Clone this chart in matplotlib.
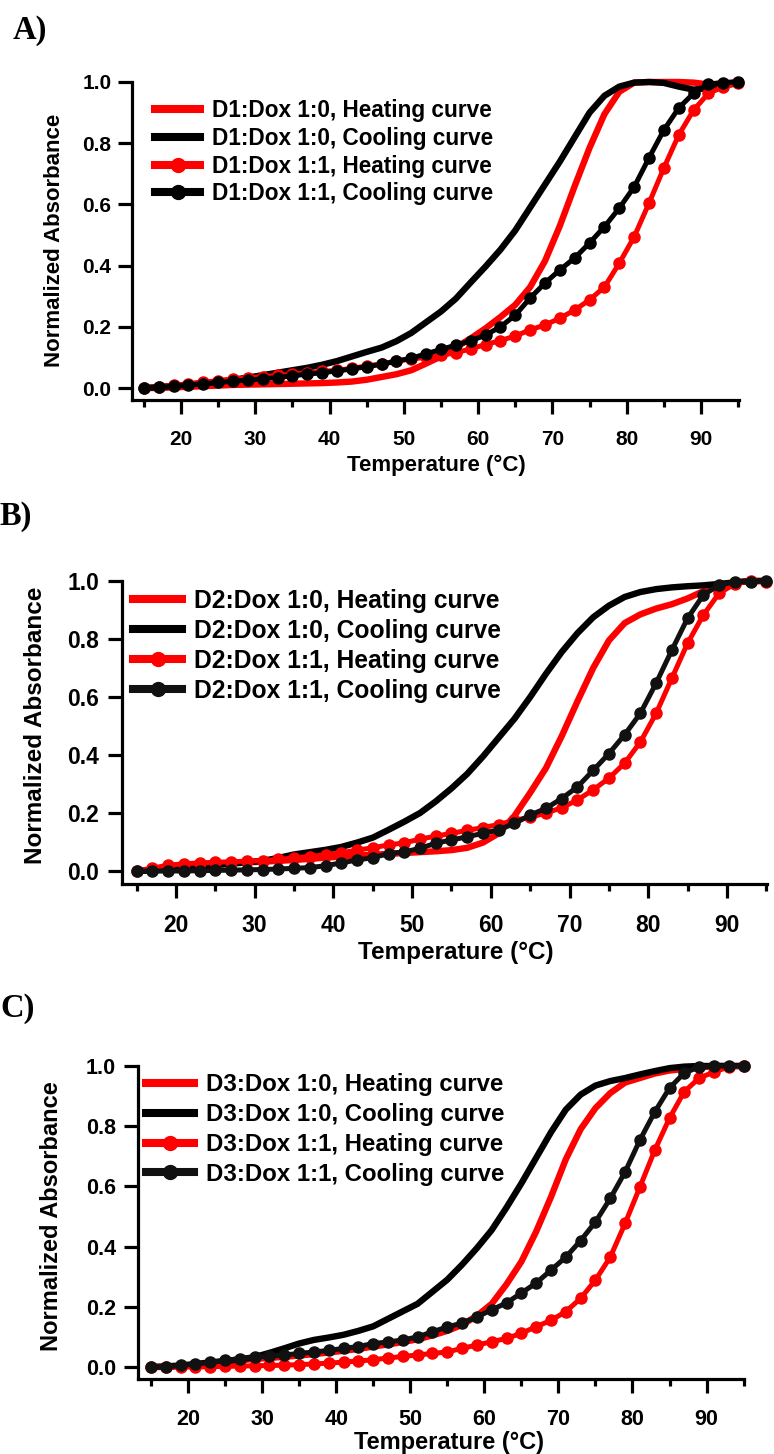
import matplotlib
matplotlib.use("Agg")
import matplotlib.pyplot as plt
from matplotlib.ticker import MultipleLocator, FormatStrFormatter

plt.rcParams['font.family'] = ['Liberation Sans', 'DejaVu Sans']
plt.rcParams['font.weight'] = 'bold'
plt.rcParams['axes.labelweight'] = 'bold'

# ---------------------------------------------------------------- data
temperature = [15, 17, 19, 21, 23, 25, 27, 29, 31, 33, 35, 37, 39, 41,
               43, 45, 47, 49, 51, 53, 55, 57, 59, 61, 63, 65, 67, 69,
               71, 73, 75, 77, 79, 81, 83, 85, 87, 89, 91, 93, 95]

# D1
d1_heat_10 = [0.000, 0.000, 0.002, 0.004, 0.006, 0.008, 0.010, 0.011, 0.012, 0.013,
              0.014, 0.015, 0.016, 0.018, 0.021, 0.027, 0.036, 0.045, 0.058, 0.080,
              0.103, 0.133, 0.162, 0.195, 0.232, 0.272, 0.330, 0.415, 0.530, 0.660,
              0.785, 0.895, 0.968, 0.998, 1.000, 1.000, 1.000, 0.998, 0.992, 0.995, 1.000]
d1_cool_10 = [0.000, 0.003, 0.007, 0.011, 0.016, 0.020, 0.027, 0.034, 0.042, 0.050,
              0.058, 0.066, 0.076, 0.088, 0.103, 0.118, 0.132, 0.153, 0.180, 0.215,
              0.250, 0.292, 0.345, 0.397, 0.452, 0.515, 0.590, 0.665, 0.740, 0.820,
              0.900, 0.955, 0.985, 0.998, 1.000, 0.997, 0.985, 0.975, 0.980, 0.990, 0.995]
d1_heat_11 = [0.000, 0.004, 0.009, 0.014, 0.019, 0.024, 0.029, 0.033, 0.037, 0.041,
              0.045, 0.050, 0.054, 0.058, 0.064, 0.072, 0.079, 0.088, 0.095, 0.100,
              0.107, 0.115, 0.128, 0.142, 0.155, 0.170, 0.190, 0.206, 0.228, 0.255,
              0.288, 0.330, 0.408, 0.494, 0.604, 0.719, 0.827, 0.908, 0.963, 0.984, 0.997]
d1_cool_11 = [0.000, 0.002, 0.006, 0.010, 0.014, 0.018, 0.022, 0.026, 0.030, 0.034,
              0.040, 0.045, 0.050, 0.056, 0.062, 0.070, 0.077, 0.088, 0.097, 0.112,
              0.126, 0.140, 0.154, 0.173, 0.200, 0.238, 0.294, 0.343, 0.386, 0.425,
              0.474, 0.527, 0.588, 0.657, 0.752, 0.843, 0.915, 0.963, 0.993, 0.998, 1.000]

# D2
d2_heat_10 = [0.000, 0.005, 0.012, 0.018, 0.022, 0.025, 0.028, 0.030, 0.032, 0.035,
              0.038, 0.042, 0.046, 0.050, 0.053, 0.056, 0.059, 0.062, 0.065, 0.068,
              0.072, 0.080, 0.098, 0.130, 0.190, 0.270, 0.355, 0.465, 0.585, 0.700,
              0.795, 0.855, 0.885, 0.905, 0.920, 0.940, 0.965, 0.985, 0.995, 1.000, 1.000]
d2_cool_10 = [0.000, 0.002, 0.005, 0.010, 0.015, 0.020, 0.025, 0.030, 0.035, 0.045,
              0.057, 0.065, 0.073, 0.083, 0.098, 0.115, 0.142, 0.170, 0.200, 0.240,
              0.285, 0.335, 0.395, 0.460, 0.525, 0.600, 0.680, 0.755, 0.820, 0.875,
              0.915, 0.945, 0.962, 0.972, 0.978, 0.982, 0.985, 0.990, 0.995, 1.000, 1.000]
d2_heat_11 = [0.000, 0.010, 0.020, 0.025, 0.028, 0.030, 0.032, 0.034, 0.036, 0.040,
              0.045, 0.050, 0.056, 0.063, 0.072, 0.080, 0.090, 0.097, 0.110, 0.120,
              0.130, 0.140, 0.150, 0.160, 0.175, 0.185, 0.200, 0.218, 0.245, 0.280,
              0.320, 0.372, 0.445, 0.544, 0.665, 0.786, 0.883, 0.958, 0.990, 1.000, 0.998]
d2_cool_11 = [0.000, 0.000, 0.000, 0.000, 0.001, 0.002, 0.003, 0.004, 0.005, 0.007,
              0.009, 0.012, 0.018, 0.028, 0.038, 0.046, 0.060, 0.066, 0.078, 0.096,
              0.107, 0.118, 0.130, 0.142, 0.164, 0.193, 0.216, 0.250, 0.290, 0.347,
              0.405, 0.470, 0.544, 0.648, 0.762, 0.872, 0.952, 0.986, 0.997, 0.998, 1.000]

# D3
d3_heat_10 = [0.000, 0.000, 0.003, 0.007, 0.012, 0.017, 0.022, 0.027, 0.030, 0.034,
              0.038, 0.043, 0.048, 0.054, 0.060, 0.068, 0.075, 0.083, 0.092, 0.105,
              0.120, 0.140, 0.170, 0.210, 0.275, 0.350, 0.450, 0.565, 0.690, 0.790,
              0.860, 0.910, 0.945, 0.960, 0.975, 0.985, 0.990, 0.995, 1.000, 1.000, 1.000]
d3_cool_10 = [0.000, 0.002, 0.005, 0.010, 0.015, 0.020, 0.025, 0.033, 0.047, 0.062,
              0.078, 0.090, 0.098, 0.107, 0.120, 0.135, 0.160, 0.185, 0.210, 0.250,
              0.290, 0.340, 0.395, 0.455, 0.530, 0.610, 0.695, 0.780, 0.855, 0.905,
              0.935, 0.950, 0.960, 0.972, 0.983, 0.993, 0.998, 1.000, 1.000, 1.000, 1.000]
d3_heat_11 = [0.000, 0.000, 0.000, 0.000, 0.001, 0.002, 0.003, 0.004, 0.005, 0.006,
              0.008, 0.010, 0.013, 0.016, 0.020, 0.024, 0.030, 0.035, 0.040, 0.045,
              0.050, 0.062, 0.073, 0.084, 0.095, 0.112, 0.134, 0.155, 0.184, 0.228,
              0.289, 0.365, 0.477, 0.598, 0.720, 0.827, 0.915, 0.960, 0.980, 0.997, 1.000]
d3_cool_11 = [0.000, 0.000, 0.005, 0.010, 0.015, 0.022, 0.028, 0.033, 0.035, 0.040,
              0.045, 0.050, 0.055, 0.062, 0.068, 0.078, 0.083, 0.090, 0.100, 0.117,
              0.133, 0.146, 0.166, 0.190, 0.213, 0.246, 0.279, 0.322, 0.365, 0.420,
              0.482, 0.560, 0.648, 0.754, 0.847, 0.927, 0.977, 0.997, 1.000, 1.000, 1.000]

samples = ["D1", "D2", "D3"]
panel_letters = ["A)", "B)", "C)"]
series_sets = [
    (d1_heat_10, d1_cool_10, d1_heat_11, d1_cool_11),
    (d2_heat_10, d2_cool_10, d2_heat_11, d2_cool_11),
    (d3_heat_10, d3_cool_10, d3_heat_11, d3_cool_11),
]
x_title = "Temperature (\u00b0C)"
y_title = "Normalized Absorbance"

# ---------------------------------------------------------------- layout (pixels)
W, H = 774, 1454
fig = plt.figure(figsize=(W / 100, H / 100), dpi=100)

# per panel: axes box, pixel of T=20 and T=90, pixel of y=0 and y=1,
# font sizes, label positions, legend anchor
layout = [
    dict(left=132, right=739, top=82, bottom=400, x20=181, x90=701, y0=388, y1=82,
         tick_fs=15, lab_fs=16, leg_fs=16.3, ylab=(55, 240), xlab=(436, 465),
         leg=(155, 99), letter=(13, 31), ypad=5, lspace=0.21, black="#000000"),
    dict(left=122, right=767, top=581, bottom=884, x20=176, x90=727, y0=871, y1=581,
         tick_fs=16.5, lab_fs=17.5, leg_fs=17.7, ylab=(36, 725), xlab=(456, 952),
         leg=(133, 589), letter=(0, 517), ypad=6.5, lspace=0.245, black="#111111"),
    dict(left=138, right=744, top=1066, bottom=1379, x20=188, x90=707, y0=1367, y1=1066,
         tick_fs=15.5, lab_fs=17, leg_fs=17.3, ylab=(52, 1216), xlab=(449, 1442),
         leg=(146, 1073), letter=(0, 1008), ypad=6, lspace=0.29, black="#111111"),
]

RED = "#ff0000"

for sample, letter, series, L in zip(samples, panel_letters, series_sets, layout):
    ax = fig.add_axes([L["left"] / W, 1 - L["bottom"] / H,
                       (L["right"] - L["left"]) / W, (L["bottom"] - L["top"]) / H])
    sx = (L["x90"] - L["x20"]) / 70.0
    sy = (L["y0"] - L["y1"]) / 1.0
    xmin = 20 - (L["x20"] - L["left"]) / sx
    xmax = max(90 + (L["right"] - L["x90"]) / sx, 95.05)
    ymin = -(L["bottom"] - L["y0"]) / sy
    ymax = 1.0 + (L["y1"] - L["top"]) / sy

    heat10, cool10, heat11, cool11 = series
    ax.plot(temperature, heat10, color=RED, lw=4.6, clip_on=False,
            solid_joinstyle="round", label=f"{sample}:Dox 1:0, Heating curve")
    ax.plot(temperature, cool10, color="black", lw=4.6, clip_on=False,
            solid_joinstyle="round", label=f"{sample}:Dox 1:0, Cooling curve")
    ax.plot(temperature, heat11, color=RED, lw=3.6, marker="o", ms=8, clip_on=False,
            label=f"{sample}:Dox 1:1, Heating curve")
    ax.plot(temperature, cool11, color=L["black"], lw=3.6, marker="o", ms=8, clip_on=False,
            label=f"{sample}:Dox 1:1, Cooling curve")

    ax.set_xlim(xmin, xmax)
    ax.set_ylim(ymin, ymax)

    for side in ("top", "right"):
        ax.spines[side].set_visible(False)
    for side in ("left", "bottom"):
        ax.spines[side].set_linewidth(2.3)

    ax.xaxis.set_major_locator(MultipleLocator(10))
    ax.xaxis.set_minor_locator(MultipleLocator(5))
    ax.yaxis.set_major_locator(MultipleLocator(0.2))
    ax.yaxis.set_major_formatter(FormatStrFormatter("%.1f"))
    ax.tick_params(axis="both", which="major", direction="out", length=9.8, width=2.3,
                   labelsize=L["tick_fs"])
    ax.tick_params(axis="x", which="minor", direction="out", length=5.2, width=2.3)
    ax.tick_params(axis="x", which="major", pad=11.5)
    ax.tick_params(axis="y", which="major", pad=L["ypad"])
    for lab in ax.get_xticklabels() + ax.get_yticklabels():
        lab.set_fontweight("bold")

    ax.set_xlabel(x_title, fontsize=L["lab_fs"], fontweight="bold", va="center")
    ax.set_ylabel(y_title, fontsize=L["lab_fs"], fontweight="bold", va="center")
    ax.xaxis.set_label_coords(L["xlab"][0] / W, 1 - L["xlab"][1] / H, transform=fig.transFigure)
    ax.yaxis.set_label_coords(L["ylab"][0] / W, 1 - L["ylab"][1] / H, transform=fig.transFigure)

    # legend anchored at its top-left corner
    lx = (L["leg"][0] - L["left"]) / (L["right"] - L["left"])
    ly = (L["bottom"] - L["leg"][1]) / (L["bottom"] - L["top"])
    leg = ax.legend(loc="upper left", bbox_to_anchor=(lx, ly), frameon=False,
                    prop=dict(size=L["leg_fs"], weight="bold"), handlelength=2.0,
                    handletextpad=0.5, labelspacing=L["lspace"], borderpad=0,
                    borderaxespad=0, numpoints=1)
    for h in leg.legend_handles:
        h.set_linewidth(5.8)
        h.set_markersize(10)

    fig.text(L["letter"][0] / W, 1 - L["letter"][1] / H, letter, fontsize=23.5,
             fontweight="bold", family=["Liberation Serif", "DejaVu Serif"],
             ha="left", va="center")

fig.savefig("out.png", dpi=100)
